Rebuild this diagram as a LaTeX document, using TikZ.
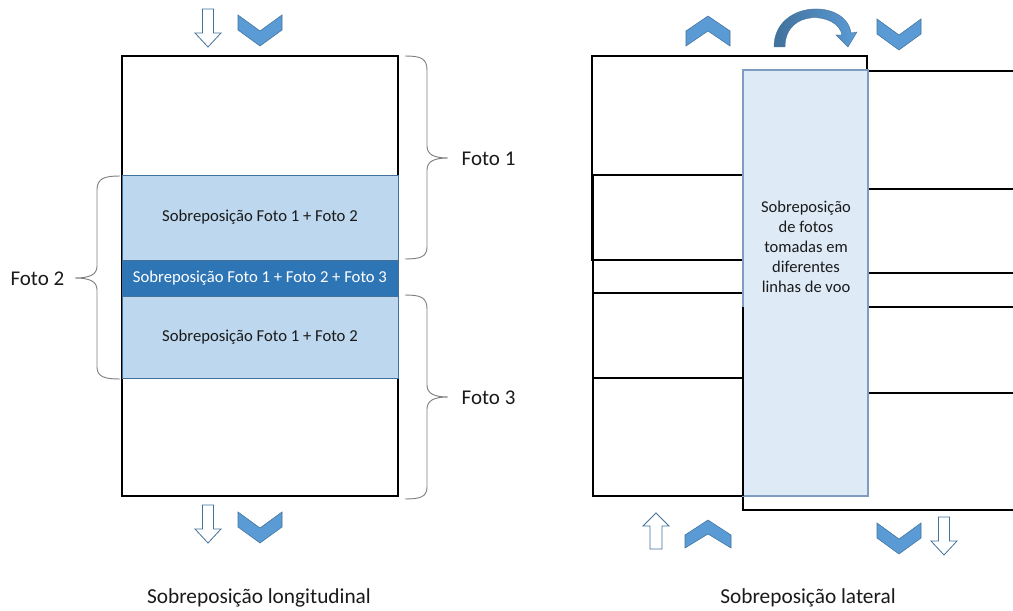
\documentclass[tikz,border=0pt]{standalone}
\usepackage{fontspec}
\setmainfont{Carlito}
\definecolor{bandlight}{HTML}{BDD7EE}
\definecolor{banddark}{HTML}{2E75B6}
\definecolor{bandedge}{HTML}{41719C}
\definecolor{chev}{HTML}{5B9BD5}
\definecolor{stripfill}{HTML}{DEEBF7}
\definecolor{stripedge}{HTML}{7F9DC3}
\definecolor{bracegray}{HTML}{808080}
\definecolor{txt}{HTML}{1A1A1A}
\tikzset{
  photo/.style={draw=black, line width=0.9pt},
  band/.style={draw=bandedge, line width=0.6pt},
  chevron/.style={fill=chev, draw=bandedge, line width=0.4pt},
  hollow/.style={fill=white, draw=bandedge, line width=0.6pt},
  bracepath/.style={draw=bracegray, line width=0.7pt},
  bandtext/.style={font=\fontsize{12.5}{15}\selectfont, text=txt},
  label/.style={font=\fontsize{15.75}{19}\selectfont, text=txt},
  caption/.style={font=\fontsize{16}{19}\selectfont, text=txt},
  chevdown/.pic={\path[chevron] (-22,0) -- (0,16) -- (22,0) -- (22,15) -- (0,31) -- (-22,15) -- cycle;},
  chevup/.pic={\path[chevron] (0,0) -- (22,15) -- (22,30) -- (0,15) -- (-22,30) -- (-22,15) -- cycle;},
  chevupflat/.pic={\path[chevron] (0,0) -- (23,15) -- (23,28) -- (0,14) -- (-23,28) -- (-23,15) -- cycle;},
  arrowdown/.pic={\path[hollow] (-5.5,0) -- (5.5,0) -- (5.5,24) -- (13,24) -- (0,38) -- (-13,24) -- (-5.5,24) -- cycle;},
  arrowup/.pic={\path[hollow] (0,0) -- (13,13) -- (6,13) -- (6,36) -- (-6,36) -- (-6,13) -- (-13,13) -- cycle;},
}
\begin{document}
\begin{tikzpicture}[x=0.75pt, y=-0.75pt]
\useasboundingbox (0,0) rectangle (1013,610);

% ---------- longitudinal overlap ----------
\draw[photo] (122,56) rectangle (398,496);
\draw[band, fill=bandlight] (122,175) rectangle (398,260);
\draw[band, fill=banddark] (122,260) rectangle (398,296);
\draw[band, fill=bandlight] (122,296) rectangle (398,378);
\node[bandtext] (o12a) at (260,217.5) {Sobreposição Foto 1 + Foto 2};
\node[bandtext, text=white] (o123) at (260,278) {Sobreposição Foto 1 + Foto 2 + Foto 3};
\node[bandtext] (o12b) at (260,337) {Sobreposição Foto 1 + Foto 2};

% braces
\draw[bracepath] (405,56) .. controls (420,56) and (427,58) .. (427,70) -- (427,146)
  .. controls (427,155) and (435,158) .. (448,158)
  .. controls (435,158) and (427,161) .. (427,170) -- (427,247)
  .. controls (427,257) and (420,259) .. (405,259);
\draw[bracepath] (405,295) .. controls (420,295) and (427,297) .. (427,309) -- (427,385)
  .. controls (427,394) and (435,397) .. (448,397)
  .. controls (435,397) and (427,400) .. (427,409) -- (427,487)
  .. controls (427,497) and (420,499) .. (405,499);
\draw[bracepath] (120,176) .. controls (105,176) and (97,178) .. (97,190) -- (97,266)
  .. controls (97,275) and (89,278) .. (75,278)
  .. controls (89,278) and (97,281) .. (97,290) -- (97,367)
  .. controls (97,377) and (105,379) .. (120,379);
\node[label, anchor=west] (f1) at (457,159) {Foto 1};
\node[label, anchor=west] (f3) at (457,398) {Foto 3};
\node[label, anchor=east] (f2) at (69,279) {Foto 2};

% direction marks
\pic at (208,9) {arrowdown};
\pic at (260,15) {chevdown};
\pic at (208,505) {arrowdown};
\pic at (260,512) {chevdown};

\node[caption] (capl) at (259,598) {Sobreposição longitudinal};

% ---------- lateral overlap ----------
\draw[photo] (592,56) rectangle (867,260);
\draw[photo] (593,175) rectangle (867,378);
\draw[photo] (593,293) rectangle (867,496);
\draw[photo] (1030,71) -- (743,71) -- (743,273) -- (1030,273);
\draw[photo] (1030,189) -- (743,189) -- (743,393) -- (1030,393);
\draw[photo] (1030,307) -- (743,307) -- (743,510) -- (1030,510);
\draw[fill=stripfill, draw=stripedge, line width=0.9pt] (743,70) rectangle (868,496);
\draw[black, line width=0.9pt] (743,307) -- (743,496);
\node[bandtext, align=center, font=\fontsize{12.4}{15}\selectfont] (strip) at (806,247)
  {Sobreposição\\de fotos\\tomadas em\\diferentes\\linhas de voo};

\pic at (708,16) {chevup};
\pic at (899,19) {chevdown};
\shade[left color=bandedge, right color=chev, draw=bandedge, line width=0.3pt]
  (774,47) .. controls (774,0) and (846,-2) .. (851,33)
  -- (857,32) -- (848,47) -- (836,35) -- (842,35)
  .. controls (838,12) and (785,8) .. (785,47) -- cycle;

\pic at (656,513) {arrowup};
\pic at (708,520) {chevupflat};
\pic at (899,523) {chevdown};
\pic at (944,517) {arrowdown};

\node[caption] (capr) at (808,598) {Sobreposição lateral};
\end{tikzpicture}
\end{document}
